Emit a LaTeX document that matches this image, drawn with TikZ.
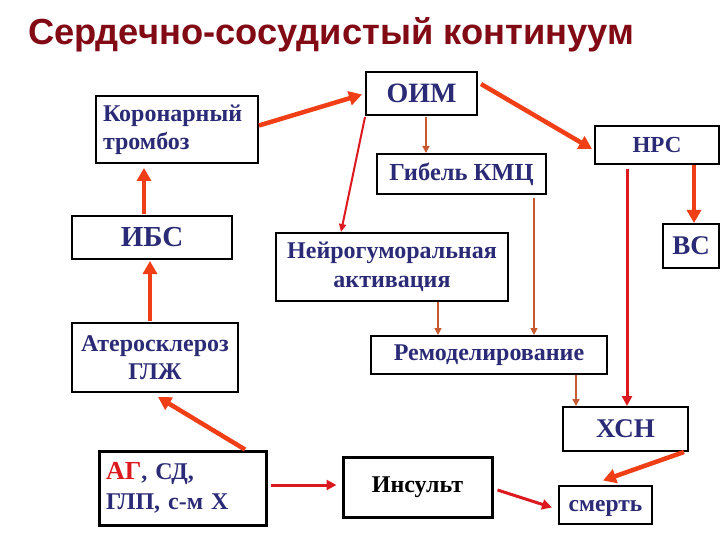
\documentclass[tikz,border=0pt]{standalone}
\usepackage{fontspec}
\setmainfont{Liberation Serif}
\newfontfamily\titlefont{Liberation Sans}
\usetikzlibrary{arrows.meta,calc}
\definecolor{navy}{RGB}{42,42,118}
\definecolor{titlered}{RGB}{130,10,20}
\definecolor{thickor}{RGB}{240,62,22}
\definecolor{thinbr}{RGB}{200,90,50}
\definecolor{lred}{RGB}{220,25,30}
\tikzset{
  box/.style={draw=black, line width=2pt, fill=white, inner sep=0pt, align=center, text=navy, font=\bfseries},
  thickarr/.style={draw=thickor, line width=4.5pt, -{Triangle[length=13pt,width=14pt]}},
  thinarr/.style={draw=thinbr, line width=1.5pt, -{Triangle[length=7pt,width=7pt]}},
  redarr/.style={draw=lred, line width=2pt, -{Triangle[length=8pt,width=7pt]}},
  midarr/.style={draw=lred, line width=3pt, -{Triangle[length=10pt,width=10pt]}}
}
\begin{document}
\begin{tikzpicture}[x=1pt,y=-1pt]
\useasboundingbox (0,0) rectangle (720,540);
\fill[white] (0,0) rectangle (720,540);
\node[anchor=base west, text=titlered, font=\titlefont\bfseries\fontsize{36.3}{40}\selectfont, inner sep=0pt] (title) at (28,45) {Сердечно-сосудистый континуум};

\node[box, minimum width=162pt, minimum height=67pt, text width=148pt, inner xsep=7pt, align=left, font=\bfseries\fontsize{24}{28}\selectfont] (kor) at (177,129.5) {Коронарный\\тромбоз};
\node[box, minimum width=160pt, minimum height=43pt, font=\bfseries\fontsize{29}{30}\selectfont] (ibs) at (152,237.5) {ИБС};
\node[box, minimum width=166pt, minimum height=69pt, font=\bfseries\fontsize{24}{28}\selectfont] (ater) at (155,357.5) {Атеросклероз\\ГЛЖ};
\node[box, minimum width=111pt, minimum height=43pt, font=\bfseries\fontsize{28}{30}\selectfont] (oim) at (421.5,93.5) {ОИМ};
\node[box, minimum width=169pt, minimum height=40pt, font=\bfseries\fontsize{24.5}{26}\selectfont] (gib) at (461.5,174) {Гибель КМЦ};
\node[box, minimum width=124pt, minimum height=38pt, font=\bfseries\fontsize{23}{26}\selectfont] (nrs) at (657,145) {НРС};
\node[box, minimum width=56pt, minimum height=44pt, font=\bfseries\fontsize{27}{28}\selectfont] (vs) at (691,246) {ВС};
\node[box, minimum width=232pt, minimum height=68pt, font=\bfseries\fontsize{24}{29}\selectfont] (neuro) at (392,267) {Нейрогуморальная\\активация};
\node[box, minimum width=236pt, minimum height=38pt, font=\bfseries\fontsize{24}{26}\selectfont] (remod) at (489,355) {Ремоделирование};
\node[box, minimum width=125pt, minimum height=44pt, font=\bfseries\fontsize{27}{30}\selectfont] (xsn) at (625.5,429) {ХСН};
\node[box, minimum width=93pt, minimum height=38pt, text height=13pt, text depth=0pt, font=\bfseries\fontsize{23.5}{26}\selectfont] (smert) at (605.5,504.5) {смерть};
\node[box, line width=3pt, text=black, minimum width=149pt, minimum height=60pt, font=\bfseries\fontsize{24}{28}\selectfont] (insult) at (417.5,487) {Инсульт};
\node[box, line width=3pt, minimum width=167pt, minimum height=74pt, text width=153pt, inner xsep=7pt, align=left, font=\bfseries\fontsize{24}{30}\selectfont] (ag) at (182.5,488) {\textcolor{lred}{\fontsize{26}{30}\selectfont АГ}, СД,\\ГЛП, с-м Х};

% arrows
\draw[thickarr] ($(kor.east)+(0,-4)$) -- ($(oim.west)+(-3,1)$);
\draw[thickarr] ($(ibs.north)+(-8,-1)$) -- ($(kor.south)+(-33,4)$);
\draw[thickarr] ($(ater.north)+(-5,-1)$) -- ($(ibs.south)+(-2,1)$);
\draw[redarr] ($(oim.south west)+(0,1)$) -- ($(neuro.north)+(-51,0)$);
\draw[thinarr] ($(oim.south)+(4.5,1)$) -- ($(gib.north)+(-35.5,0)$);
\draw[thickarr] ($(oim.east)+(3,-9.5)$) -- ($(nrs.west)+(-2,4)$);
\draw[thickarr] ($(nrs.south)+(37,0)$) -- ($(vs.north)+(3,0)$);
\draw[midarr] ($(nrs.south)+(-30,4)$) -- ($(xsn.north)+(1.5,0)$);
\draw[thinarr] ($(gib.south)+(72.5,3)$) -- ($(remod.north)+(45,0)$);
\draw[thinarr] ($(neuro.south)+(46,0)$) -- ($(remod.north)+(-51,0)$);
\draw[thinarr] ($(remod.south)+(87,0)$) -- ($(xsn.north)+(-49.5,0)$);
\draw[thickarr] ($(xsn.south east)+(-5,0)$) -- ($(smert.north)+(-2.5,-4)$);
\draw[midarr] ($(insult.east)+(4,3)$) -- ($(smert.west)+(-6,3)$);
\draw[midarr] ($(ag.east)+(3,-3)$) -- ($(insult.west)+(-5,-2)$);
\draw[thickarr] ($(ag.north)+(62.5,0)$) -- ($(ater.south)+(3,4)$);
\end{tikzpicture}
\end{document}
